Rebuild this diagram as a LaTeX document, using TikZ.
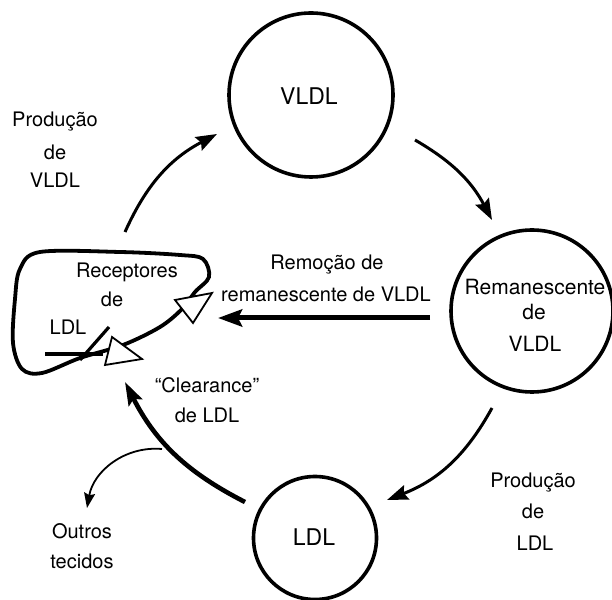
\documentclass[tikz,border=0pt]{standalone}
\usepackage{fontspec}
\setmainfont{TeX Gyre Heros}
\usetikzlibrary{arrows.meta}
\begin{document}
\begin{tikzpicture}[x=1pt,y=1pt,
  circ/.style={draw, circle, line width=3.6pt, inner sep=0pt},
  lbl/.style={anchor=base, inner sep=0pt, font=\fontsize{20}{24}\selectfont},
  clbl/.style={anchor=base, inner sep=0pt, font=\fontsize{23}{27}\selectfont},
  rlbl/.style={anchor=base, inner sep=0pt, font=\fontsize{21}{25}\selectfont},
  flow/.style={line width=3pt, -{Stealth[length=21pt,width=15pt,inset=3pt]}},
  bigflow/.style={line width=4.6pt, -{Stealth[length=23pt,width=15pt,inset=4pt]}},
  hflow/.style={line width=5pt, -{Stealth[length=24pt,width=17pt,inset=4pt]}},
  thinflow/.style={line width=1.8pt, -{Stealth[length=15pt,width=11pt,inset=2pt]}},
  recep/.style={draw, fill=white, line width=1.8pt, line join=miter},
  liver/.style={draw, line width=3.8pt}
]
\clip (0,0) rectangle (612,599);
\fill[white] (0,0) rectangle (612,599);

% circles
\node[circ, minimum size=164pt] (vldl) at (311,504) {};
\node[circ, minimum size=162pt] (rem) at (532,288) {};
\node[circ, minimum size=123pt] (ldl) at (315,61) {};

% circle labels
\node[clbl] (tvldl) at (309,494) {VLDL};
\node[clbl] (tldl) at (314,54) {LDL};
\node[rlbl] (trem1) at (535,304) {Remanescente};
\node[rlbl] (trem2) at (534,279) {de};
\node[rlbl] (trem3) at (535,247) {VLDL};

% liver
\draw[liver] plot[smooth cycle, tension=0.55] coordinates {
  (195,307) (209,322) (203,340) (180,344) (120,347) (40,347) (20,330)
  (15,300) (13,256) (22,230) (42,226) (80,241) (123,254) (160,272) (182,290)};
\coordinate (h1) at (45,245);
\coordinate (h2) at (103,245);
\draw[line width=3.2pt] (h1) -- (h2);
\coordinate (g1) at (80,239);
\coordinate (g2) at (109,272);
\draw[line width=3.2pt] (g1) -- (g2);
\draw[recep] (175,299) -- (212,306) -- (193,276) -- cycle;
\draw[recep] (112,262) -- (142,240) -- (105,234) -- cycle;

% arrows
\coordinate (a1) at (125,367);
\coordinate (a2) at (217,465);
\draw[flow] (a1) to[bend left=19] (a2);
\coordinate (b1) at (415,459);
\coordinate (b2) at (492,379);
\draw[flow] (b1) to[bend left=16] (b2);
\coordinate (c1) at (492,191);
\coordinate (c2) at (387,99);
\draw[flow] (c1) to[bend left=20] (c2);
\coordinate (d1) at (245,97);
\coordinate (d2) at (125,217);
\draw[bigflow] (d1) to[bend left=18] (d2);
\coordinate (e1) at (162,150);
\coordinate (e2) at (87,91);
\draw[thinflow] (e1) to[out=175, in=80] (e2);
\coordinate (r1) at (430,281);
\coordinate (r2) at (218,281);
\draw[hflow] (r1) -- (r2);

% labels
\node[lbl] (pv1) at (55,472) {Produção};
\node[lbl] (pv2) at (55,439) {de};
\node[lbl] (pv3) at (55,411) {VLDL};
\node[lbl] (rc1) at (127,321) {Receptores};
\node[lbl] (rc2) at (112,292) {de};
\node[lbl] (rc3) at (68,264) {LDL};
\node[lbl] (rm1) at (327,329) {Remoção de};
\node[lbl] (rm2) at (326,297) {remanescente de VLDL};
\node[lbl] (cl1) at (207,206) {“Clearance”};
\node[lbl] (cl2) at (207,176) {de LDL};
\node[lbl] (ot1) at (82,61) {Outros};
\node[lbl] (ot2) at (82,31) {tecidos};
\node[lbl] (pl1) at (533,111) {Produção};
\node[lbl] (pl2) at (533,81) {de};
\node[lbl] (pl3) at (535,49) {LDL};
\end{tikzpicture}
\end{document}
